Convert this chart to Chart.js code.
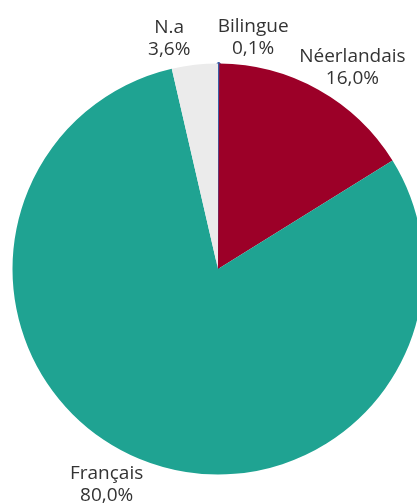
<!DOCTYPE html>
<html>
<head>
<meta charset="utf-8">
<script src="https://cdn.jsdelivr.net/npm/chart.js@4/dist/chart.umd.min.js"></script>
<style>
  html, body { margin: 0; padding: 0; background: #ffffff; overflow: hidden; }
  #wrap { position: relative; width: 417px; height: 504px; overflow: hidden; }
  canvas { position: absolute; left: 0; top: 0; }
</style>
</head>
<body>
<div id="wrap"><canvas id="chart" width="436" height="504"></canvas></div>
<script>
// Language split of the population (percent)
const categories = ['Bilingue', 'Néerlandais', 'Français', 'N.a'];
const shares = [0.1, 16.0, 80.0, 3.6];
const sliceColors = ['#3b5fa6', '#9c0028', '#1fa392', '#ebebeb'];

// Offset of each label box from the outer edge of its slice (px)
const labelOffsets = [
  { dx: 34.5, dy: -25.5 },
  { dx: 34, dy: -22 },
  { dx: -32.5, dy: 25.5 },
  { dx: -25.5, dy: -26 }
];

const fmtPct = v => v.toFixed(1).replace('.', ',') + '%';

const outsideLabels = {
  id: 'outsideLabels',
  afterDatasetsDraw(chart) {
    const ctx = chart.ctx;
    const meta = chart.getDatasetMeta(0);
    ctx.save();
    ctx.fillStyle = '#333333';
    ctx.font = '19px "Open Sans", Lato, sans-serif';
    ctx.textAlign = 'center';
    ctx.textBaseline = 'middle';
    meta.data.forEach((arc, i) => {
      const p = arc.getProps(['x', 'y', 'startAngle', 'endAngle', 'outerRadius'], true);
      const mid = (p.startAngle + p.endAngle) / 2;
      const ex = p.x + Math.cos(mid) * p.outerRadius;
      const ey = p.y + Math.sin(mid) * p.outerRadius;
      const cx = ex + labelOffsets[i].dx;
      const cy = ey + labelOffsets[i].dy;
      ctx.fillText(categories[i], cx, cy - 11);
      ctx.fillText(fmtPct(shares[i]), cx, cy + 11);
    });
    ctx.restore();
  }
};

new Chart(document.getElementById('chart'), {
  type: 'pie',
  data: {
    labels: categories,
    datasets: [{
      data: shares,
      backgroundColor: sliceColors,
      borderColor: sliceColors,
      borderWidth: [3, 0, 0, 0]
    }]
  },
  options: {
    responsive: false,
    animation: false,
    layout: { padding: { top: 62, bottom: 28, left: 0, right: 0 } },
    plugins: {
      legend: { display: false },
      tooltip: { enabled: false }
    }
  },
  plugins: [outsideLabels]
});
</script>
</body>
</html>
